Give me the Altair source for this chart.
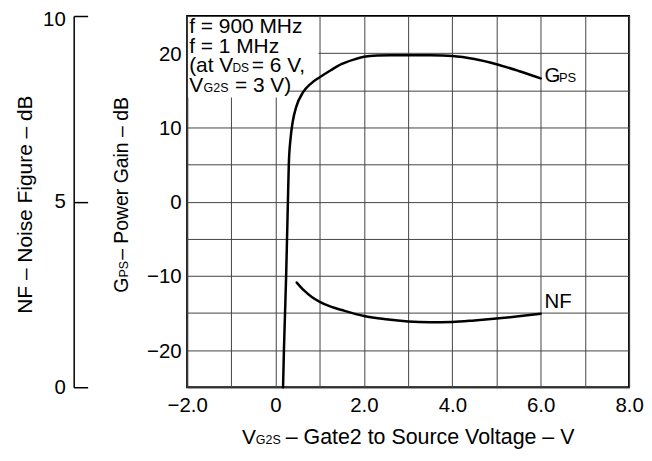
import altair as alt
import pandas as pd

FONT = "Liberation Sans"

# ---- data ----
gps_v = [0.17, 0.19, 0.215, 0.24, 0.26, 0.28, 0.30, 0.34, 0.39, 0.47, 0.62, 0.80,
         1.0, 1.25, 1.5, 1.75, 2.0, 2.3, 2.6, 3.0, 3.5, 4.0, 4.5, 5.0, 5.5, 6.0]
gps_db = [-25, -20, -15, -10, -5, 0, 5, 8.5, 10.8, 12.8, 14.7, 15.9,
          16.75, 17.7, 18.55, 19.1, 19.5, 19.68, 19.72, 19.72, 19.7, 19.6, 19.2, 18.5, 17.6, 16.6]
nf_v = [0.48, 0.65, 0.82, 1.0, 1.25, 1.5, 2.0, 2.5, 3.0, 3.5, 4.0, 4.5, 5.0, 5.5, 6.0]
nf_db = [2.82, 2.6, 2.43, 2.3, 2.17, 2.08, 1.92, 1.83, 1.77, 1.75, 1.76, 1.80, 1.85, 1.91, 1.98]

x_ticks = [-2, -1, 0, 1, 2, 3, 4, 5, 6, 7, 8]
gain_ticks = [-25, -20, -15, -10, -5, 0, 5, 10, 15, 20, 25]
nf_ticks = [0, 5, 10]

nf_title = "NF – Noise Figure – dB"
gps_title = ["G", "PS", "– Power Gain – dB"]
x_title = ["V", "G2S", "– Gate2 to Source Voltage – V"]
note1 = "f = 900 MHz"
note2 = "f = 1 MHz"
note3 = ["(at V", "DS", "= 6 V,"]
note4 = ["V", "G2S", "= 3 V)"]
gps_label = ["G", "PS"]
nf_label = "NF"

gps_df = pd.DataFrame({"v": gps_v, "db": gps_db})
nf_df = pd.DataFrame({"v": nf_v, "nf": nf_db})

x_enc = alt.X(
    "v:Q",
    scale=alt.Scale(domain=[-2, 8], nice=False, zero=False),
    axis=alt.Axis(
        values=x_ticks, format=".1f",
        labelExpr="datum.value == 0 ? '0' : (datum.value % 2 == 0 ? datum.label : '')",
        title=None, grid=True, gridColor="#444", gridWidth=1, domain=False,
        ticks=False, tickSize=0, labelPadding=8, labelFontSize=20.5, labelFont=FONT,
        labelColor="black", labelFlush=False, labelOverlap=False,
    ),
)

gps_line = alt.Chart(gps_df).mark_line(
    color="black", strokeWidth=2.5, interpolate="monotone", strokeCap="round"
).encode(
    x=x_enc,
    y=alt.Y(
        "db:Q",
        scale=alt.Scale(domain=[-25, 25], nice=False, zero=False),
        axis=alt.Axis(
            values=gain_ticks, format="d",
            labelExpr="datum.value % 10 == 0 ? datum.label : ''",
            title=None, grid=True, gridColor="#444", gridWidth=1, domain=False,
            ticks=False, tickSize=0, labelPadding=6, labelFontSize=20.5, labelFont=FONT,
            labelColor="black", labelFlush=False, labelOverlap=False, labelOffset=1,
        ),
    ),
)

nf_line = alt.Chart(nf_df).mark_line(
    color="black", strokeWidth=2.5, interpolate="monotone", strokeCap="round"
).encode(
    x=x_enc,
    y=alt.Y(
        "nf:Q",
        scale=alt.Scale(domain=[0, 10], nice=False, zero=False),
        axis=alt.Axis(
            orient="right", offset=-558, values=nf_ticks, format="d", grid=False,
            domain=True, domainColor="black", domainWidth=1.5,
            ticks=True, tickSize=14, tickColor="black", tickWidth=1.5,
            labelAlign="right", labelBaseline="middle", labelPadding=-22.5,
            labelOffset={"condition": {"test": "datum.value == 10", "value": 4}, "value": 0},
            labelFontSize=20.5, labelFont=FONT, labelColor="black", labelFlush=False,
            title=nf_title, titleAngle=270, titleX=-42, titleY=189,
            titleAlign="center", titleBaseline="alphabetic", titleFontSize=21,
            titleFontWeight="normal", titleFont=FONT, titleColor="black",
        ),
    ),
)


def one():
    return alt.Data(values=[{"k": 1}])


def txt(text, x, y, size, angle=0):
    return alt.Chart(one()).mark_text(
        text=text, font=FONT, fontSize=size, color="black",
        align="left", baseline="alphabetic", angle=angle,
    ).encode(x=alt.value(x), y=alt.value(y))


def box(x1, x2, y1, y2):
    return alt.Chart(one()).mark_rect(color="white").encode(
        x=alt.value(x1), x2=alt.value(x2), y=alt.value(y1), y2=alt.value(y2)
    )


texts = [
    # annotation block
    txt(note1, 2, 16.7, 21),
    txt(note2, 2, 36.7, 21),
    txt(note3[0], 2, 56.7, 21),
    txt(note3[1], 45.5, 56.7, 12),
    txt(note3[2], 65, 56.7, 21),
    txt(note4[0], 2, 76.7, 21),
    txt(note4[1], 16.5, 76.7, 12.5),
    txt(note4[2], 48, 76.7, 21),
    # curve labels
    txt(gps_label[0], 359, 66.7, 20.5),
    txt(gps_label[1], 373.5, 66.7, 13),
    txt(nf_label, 359, 293.3, 20.5),
    # x axis title
    txt(x_title[0], 55, 430.5, 21),
    txt(x_title[1], 69, 430.5, 12.5),
    txt(x_title[2], 99, 430.5, 21.5),
    # gain axis title (rotated)
    txt(gps_title[0], -59.7, 278, 19.5, 270),
    txt(gps_title[1], -59.7, 262.8, 12.5, 270),
    txt(gps_title[2], -59.7, 245, 19.5, 270),
]

chart = alt.layer(
    box(1, 132, 1, 66),
    box(1, 101, 66, 82),
    gps_line,
    nf_line,
    *texts,
).resolve_scale(y="independent").properties(
    width=444,
    height=373,
    autosize=alt.AutoSizeParams(type="none"),
    padding={"left": 180, "top": 7, "right": 15, "bottom": 62},
    background="white",
).configure_view(stroke="black", strokeWidth=2)

chart.save("out.html", embed_options={"renderer": "svg", "actions": False})
